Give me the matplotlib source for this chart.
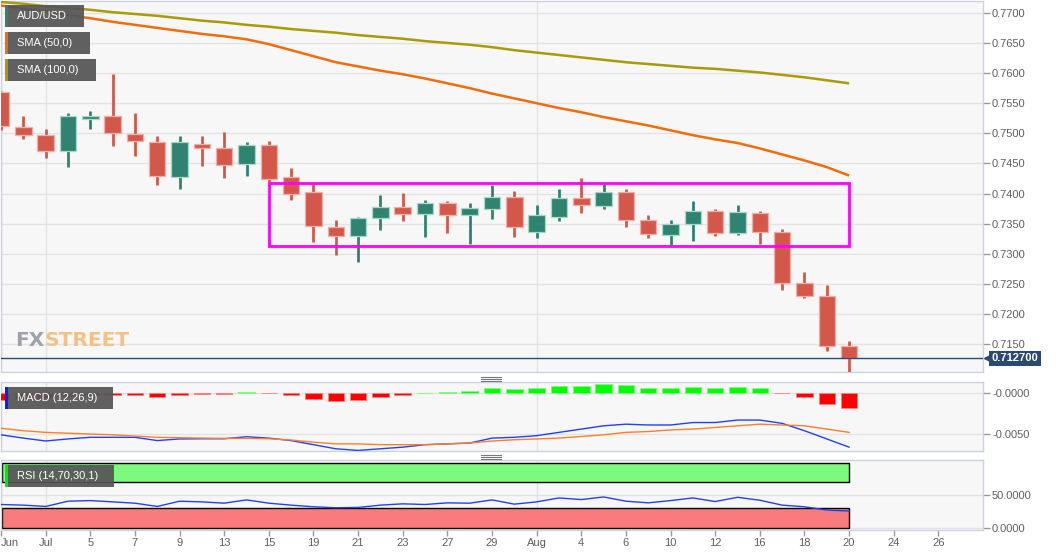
import matplotlib
matplotlib.use("Agg")
import matplotlib.pyplot as plt
import matplotlib.transforms as mtransforms
from matplotlib.patches import Rectangle
from matplotlib.lines import Line2D
from matplotlib import font_manager as fm
import numpy as np

# ---------------- data ----------------
dates = ["Jun 29", "Jun 30", "Jul 1", "Jul 2", "Jul 5", "Jul 6", "Jul 7", "Jul 8", "Jul 9",
         "Jul 12", "Jul 13", "Jul 14", "Jul 15", "Jul 16", "Jul 19", "Jul 20", "Jul 21",
         "Jul 22", "Jul 23", "Jul 26", "Jul 27", "Jul 28", "Jul 29", "Jul 30", "Aug 2",
         "Aug 3", "Aug 4", "Aug 5", "Aug 6", "Aug 9", "Aug 10", "Aug 11", "Aug 12",
         "Aug 13", "Aug 16", "Aug 17", "Aug 18", "Aug 19", "Aug 20"]

opens = [0.7569, 0.7511, 0.7498, 0.7470, 0.7524, 0.7529, 0.7499, 0.7486, 0.7428, 0.7482,
         0.7475, 0.7449, 0.7480, 0.7427, 0.7402, 0.7344, 0.7329, 0.7359, 0.7378, 0.7366,
         0.7384, 0.7365, 0.7374, 0.7394, 0.7336, 0.7361, 0.7393, 0.7379, 0.7403, 0.7356,
         0.7332, 0.7349, 0.7372, 0.7335, 0.7368, 0.7337, 0.7251, 0.7231, 0.7147]
highs = [0.7571, 0.7528, 0.7507, 0.7533, 0.7537, 0.7598, 0.7533, 0.7495, 0.7495, 0.7495,
         0.7503, 0.7485, 0.7488, 0.7442, 0.7416, 0.7356, 0.7361, 0.7397, 0.7401, 0.7389,
         0.7387, 0.7385, 0.7414, 0.7404, 0.7381, 0.7407, 0.7426, 0.7416, 0.7407, 0.7364,
         0.7356, 0.7387, 0.7375, 0.7381, 0.7371, 0.7341, 0.7270, 0.7249, 0.7155]
lows = [0.7506, 0.7490, 0.7459, 0.7444, 0.7507, 0.7479, 0.7462, 0.7414, 0.7408, 0.7446,
        0.7426, 0.7429, 0.7420, 0.7390, 0.7320, 0.7298, 0.7287, 0.7339, 0.7355, 0.7328,
        0.7335, 0.7316, 0.7358, 0.7328, 0.7327, 0.7355, 0.7368, 0.7375, 0.7345, 0.7327,
        0.7315, 0.7322, 0.7329, 0.7331, 0.7316, 0.7240, 0.7227, 0.7139, 0.7103]
closes = [0.7512, 0.7498, 0.7470, 0.7528, 0.7529, 0.7500, 0.7487, 0.7430, 0.7485, 0.7476,
          0.7448, 0.7481, 0.7424, 0.7399, 0.7346, 0.7329, 0.7359, 0.7378, 0.7366, 0.7384,
          0.7365, 0.7376, 0.7394, 0.7345, 0.7364, 0.7393, 0.7381, 0.7403, 0.7356, 0.7333,
          0.7349, 0.7372, 0.7335, 0.7369, 0.7337, 0.7251, 0.7231, 0.7147, 0.7127]

sma50 = [0.7712, 0.7707, 0.7702, 0.7696, 0.7691, 0.7685, 0.7680, 0.7675, 0.7670, 0.7665,
         0.7661, 0.7656, 0.7648, 0.7638, 0.7628, 0.7618, 0.7611, 0.7604, 0.7598, 0.7591,
         0.7583, 0.7575, 0.7566, 0.7558, 0.7550, 0.7542, 0.7535, 0.7527, 0.7520, 0.7513,
         0.7505, 0.7497, 0.7490, 0.7484, 0.7475, 0.7465, 0.7455, 0.7444, 0.7430]
sma100 = [0.7718, 0.7715, 0.7711, 0.7708, 0.7705, 0.7701, 0.7698, 0.7695, 0.7691, 0.7687,
          0.7684, 0.7680, 0.7677, 0.7673, 0.7670, 0.7667, 0.7663, 0.7660, 0.7657, 0.7653,
          0.7650, 0.7647, 0.7643, 0.7638, 0.7634, 0.7630, 0.7626, 0.7622, 0.7618, 0.7615,
          0.7612, 0.7609, 0.7607, 0.7604, 0.7601, 0.7597, 0.7593, 0.7588, 0.7583]

macd_line = [-0.0051, -0.0055, -0.00585, -0.0056, -0.0054, -0.0054, -0.0054, -0.0058, -0.0056,
             -0.00558, -0.00558, -0.00533, -0.0055, -0.0058, -0.0063, -0.0068, -0.0070, -0.0068,
             -0.0066, -0.0063, -0.0062, -0.0061, -0.0055, -0.0054, -0.0052, -0.0048, -0.0044,
             -0.0040, -0.0038, -0.0039, -0.0039, -0.0036, -0.0036, -0.0033, -0.0033, -0.0037,
             -0.0046, -0.0056, -0.0066]
signal_line = [-0.0043, -0.0046, -0.0048, -0.0049, -0.0050, -0.0051, -0.00525, -0.0054, -0.00545,
               -0.0055, -0.00553, -0.00553, -0.00558, -0.00573, -0.0060, -0.0062, -0.0062, -0.0063,
               -0.0063, -0.0063, -0.0062, -0.0061, -0.00585, -0.0057, -0.0056, -0.0055, -0.0053,
               -0.0051, -0.0048, -0.0047, -0.0045, -0.0044, -0.0042, -0.0040, -0.0038, -0.0039,
               -0.0040, -0.0044, -0.0048]
macd_hist = [-0.0009, -0.0007, -0.0006, -0.0004, -0.0003, -0.0002, -0.0003, -0.0005, -0.0003,
             -0.0001, -0.0001, 0.0001, -0.00005, -0.0003, -0.0007, -0.0010, -0.0008, -0.0005,
             -0.0003, 0.0, 0.0001, 0.0003, 0.0006, 0.0005, 0.00057, 0.00085, 0.0009, 0.0011,
             0.00094, 0.00065, 0.0006, 0.00073, 0.00057, 0.00069, 0.00057, -0.00005, -0.00053,
             -0.0013, -0.0018]

rsi = [36, 35, 33, 41, 42, 40, 38, 33, 41, 40, 38, 43, 38, 35, 32.5, 31, 31.5, 35, 37, 36,
       38.5, 38, 43, 36.5, 40, 46, 43.5, 47.5, 41, 38.5, 42, 46, 40.5, 47, 42.5, 35, 32.5,
       27.5, 26]
rsi_upper, rsi_lower = 70, 30

# consolidation box drawn on the chart (candle index range and price range)
box_first, box_last = 12, 38
box_low, box_high = 0.7313, 0.7418

tick_labels = ["Jun", "Jul", "5", "7", "9", "13", "15", "19", "21", "23", "27", "29",
               "Aug", "4", "6", "10", "12", "16", "18", "20", "24", "26"]
price_ticks = [0.7150, 0.7200, 0.7250, 0.7300, 0.7350, 0.7400, 0.7450, 0.7500,
               0.7550, 0.7600, 0.7650, 0.7700]

# ---------------- fonts ----------------
def has_font(name):
    try:
        fm.findfont(fm.FontProperties(family=name), fallback_to_default=False)
        return True
    except Exception:
        return False

base_font = "Liberation Sans" if has_font("Liberation Sans") else "DejaVu Sans"
plt.rcParams["font.family"] = [base_font, "DejaVu Sans"]

# ---------------- figure ----------------
W, H = 1060, 555
fig = plt.figure(figsize=(W / 100, H / 100), dpi=100)
fig.patch.set_facecolor("white")

def fx(px):
    return px / W

def fy(py):
    return 1 - py / H

L, R = 1, 983
ax = fig.add_axes([fx(L), fy(372), (R - L) / W, 371.5 / H])
ax_m = fig.add_axes([fx(L), fy(451), (R - L) / W, (451 - 382) / H])
ax_r = fig.add_axes([fx(L), fy(530), (R - L) / W, (530 - 460) / H])

x = np.arange(len(dates))
tick_pos = np.arange(len(tick_labels)) * 2
xlims = (0.05, 44.0)
month_pos = [p for p, t in zip(tick_pos, tick_labels) if not t.isdigit()]

BORDER = "#cdd2e3"
GRID = "#e3e3e3"
TXT = "#5e5e5e"

for a in (ax, ax_m, ax_r):
    a.set_facecolor("#f7f7f7")
    a.set_xlim(*xlims)
    for s in a.spines.values():
        s.set_color(BORDER)
        s.set_linewidth(1)
    a.yaxis.tick_right()
    a.tick_params(axis="y", length=5, width=1, color="#9a9a9a", pad=1.5,
                  labelsize=8, labelcolor=TXT)
    a.set_xticks(tick_pos)
    a.grid(axis="y", color=GRID, lw=1, zorder=0)
    a.set_axisbelow(True)
    for mp in month_pos:
        a.axvline(mp, color=GRID, lw=1, zorder=0)

for a in (ax, ax_m):
    a.tick_params(axis="x", length=0, labelbottom=False)

ax_r.set_xticklabels(tick_labels)
ax_r.tick_params(axis="x", length=4, width=1, color="#9a9a9a", pad=2,
                 labelsize=8, labelcolor=TXT)
ax_r.get_xticklabels()[0].set_horizontalalignment("left")

# ---------------- main price panel ----------------
up_c, dn_c = "#2e8470", "#d4584a"
up_e, dn_e = "#a9d5ca", "#f1aea6"
o = np.array(opens); c = np.array(closes)
is_up = c >= o
col = [up_c if u else dn_c for u in is_up]
ecol = [up_e if u else dn_e for u in is_up]

ax.vlines(x, lows, highs, colors=col, lw=2.0, zorder=3)
ax.bar(x, c - o, bottom=o, width=0.74, color=col, edgecolor=ecol, linewidth=0.9, zorder=4)

ax.plot(x, sma100, color="#a99b06", lw=1.8, zorder=5, solid_capstyle="butt")
ax.plot(x, sma50, color="#f26b0c", lw=1.8, zorder=5, solid_capstyle="butt")

ax.add_patch(Rectangle((box_first, box_low), box_last - box_first, box_high - box_low,
                       fill=False, edgecolor="#ff00ff", lw=2.0, zorder=6))

last = closes[-1]
ax.axhline(last, color="#2c4a6e", lw=1.0, zorder=6)

ax.set_ylim(0.71041, 0.77204)
ax.set_yticks(price_ticks)
ax.set_yticklabels([f"{t:.4f}" for t in price_ticks])

blend = mtransforms.blended_transform_factory(ax.transAxes, ax.transData)
ax.plot([1.0045], [last], marker="<", ms=4.5, color="#2c4a6e", transform=blend,
        clip_on=False, zorder=10)
ax.text(1.0085, last, f"{last:.6f}", transform=blend, color="white", fontsize=8,
        fontweight="bold", va="center", ha="left", zorder=11,
        bbox=dict(boxstyle="square,pad=0.22", fc="#2c4a6e", ec="none"))

# watermark
if has_font("Liberation Sans Narrow"):
    wm_font, wm_size = "Liberation Sans Narrow", 19
else:
    wm_font, wm_size = "DejaVu Sans", 14.5
t1 = fig.text(fx(15), fy(340), "FX", fontsize=wm_size, fontweight="bold",
              family=wm_font, color="#9ea1aa", va="center", ha="left", zorder=2)
fig.canvas.draw()
bb = t1.get_window_extent()
fig.text(bb.x1 / W, fy(340), "STREET", fontsize=wm_size, fontweight="bold",
         family=wm_font, color="#f2c285", va="center", ha="left", zorder=2)

# ---------------- MACD panel ----------------
hcol = ["#00ff00" if h >= 0 else "#ff0000" for h in macd_hist]
hedge = ["#7dff7d" if h >= 0 else "#ff8080" for h in macd_hist]
ax_m.bar(x, macd_hist, width=0.74, color=hcol, edgecolor=hedge, linewidth=0.6, zorder=3)
ax_m.plot(x, macd_line, color="#2040ff", lw=1.0, zorder=4)
ax_m.plot(x, signal_line, color="#ff7f27", lw=1.0, zorder=4)
ax_m.set_ylim(-0.00707, 0.00134)
ax_m.set_yticks([0.0, -0.005])
ax_m.set_yticklabels(["-0.0000", "-0.0050"])

# ---------------- RSI panel ----------------
ax_r.add_patch(Rectangle((xlims[0], rsi_upper), x[-1] - xlims[0], 100 - rsi_upper,
                         facecolor="#7dfa7d", edgecolor="black", lw=1, zorder=2))
ax_r.add_patch(Rectangle((xlims[0], 0), x[-1] - xlims[0], rsi_lower,
                         facecolor="#f87c7c", edgecolor="black", lw=1, zorder=2))
ax_r.plot(x, rsi, color="#2040ff", lw=1.0, zorder=4)
ax_r.set_ylim(-3, 104)
ax_r.set_yticks([0, 50])
ax_r.set_yticklabels(["0.0000", "50.0000"])

# ---------------- legend boxes ----------------
def legend_box(x0, y0, w, h, strip, label):
    fig.add_artist(Rectangle((fx(x0), fy(y0 + h)), w / W, h / H, transform=fig.transFigure,
                             facecolor="#555555", alpha=0.93, edgecolor="none", zorder=20))
    fig.add_artist(Rectangle((fx(x0), fy(y0 + h)), 3 / W, h / H, transform=fig.transFigure,
                             facecolor=strip, edgecolor="none", zorder=21))
    fig.text(fx(x0 + 12), fy(y0 + h / 2), label, color="white", fontsize=8,
             va="center", ha="left", zorder=22)

legend_box(5, 5, 79, 22, "#2e8470", "AUD/USD")
legend_box(5, 32, 85, 22, "#f26b0c", "SMA (50,0)")
legend_box(5, 59, 91, 22, "#a99b06", "SMA (100,0)")
legend_box(5, 387, 108, 22, "#0022ff", "MACD (12,26,9)")
legend_box(5, 465, 109, 22, "#00ee00", "RSI (14,70,30,1)")

# ---------------- panel resize handles ----------------
for yh in (376.7, 454.5):
    for k in range(3):
        fig.add_artist(Line2D([fx(481), fx(501)], [fy(yh + 2 * k)] * 2,
                              transform=fig.transFigure, color="#777777", lw=0.8, zorder=5))

fig.savefig("out.png", dpi=100, facecolor="white")
